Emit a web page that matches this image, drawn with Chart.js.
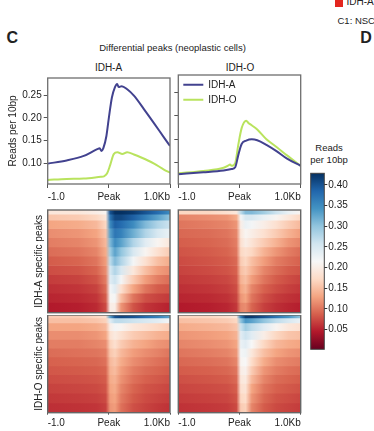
<!DOCTYPE html>
<html>
<head>
<meta charset="utf-8">
<script src="https://cdn.jsdelivr.net/npm/chart.js@4"></script>
<style>
  body { margin: 0; background: #fff; }
  #wrap { position: relative; width: 374px; height: 431px; overflow: hidden; font-family: 'Liberation Sans', Arial, sans-serif; color: #222; }
  .box { position: absolute; }
  .t { position: absolute; white-space: nowrap; line-height: 1; font-size: 9.5px; transform: translate(-50%, -50%); }
  .l { transform: translate(0, -50%); }
</style>
</head>
<body>
<div id="wrap">
  <div class="box" style="left:335px;top:0;width:8px;height:6.5px;background:#e3261f"></div>
  <div class="t l" style="left:346.5px;top:2px;font-size:10px">IDH-A</div>
  <div class="t l" style="left:337.5px;top:20.5px">C1: NSC</div>
  <div class="t" style="left:12.3px;top:37.5px;font-size:16px;font-weight:bold">C</div>
  <div class="t" style="left:366px;top:37.5px;font-size:16px;font-weight:bold">D</div>
  <div class="t" style="left:172.5px;top:48px">Differential peaks (neoplastic cells)</div>
  <div class="t" style="left:108.5px;top:68px;font-size:10px">IDH-A</div>
  <div class="t" style="left:240px;top:68px;font-size:10px">IDH-O</div>
  <div class="t" style="left:329px;top:148px">Reads</div>
  <div class="t" style="left:329px;top:159.5px">per 10bp</div>

  <div class="box" style="left:0;top:70px;width:176px;height:136px"><canvas id="profA"></canvas></div>
  <div class="box" style="left:170px;top:70px;width:136px;height:136px"><canvas id="profO"></canvas></div>
  <div class="box" style="left:30px;top:205px;width:146px;height:110px"><canvas id="hmAA"></canvas></div>
  <div class="box" style="left:176px;top:205px;width:130px;height:110px"><canvas id="hmAO"></canvas></div>
  <div class="box" style="left:30px;top:315px;width:146px;height:116px"><canvas id="hmOA"></canvas></div>
  <div class="box" style="left:176px;top:315px;width:130px;height:116px"><canvas id="hmOO"></canvas></div>
  <div class="box" style="left:305px;top:165px;width:69px;height:195px"><canvas id="cbar"></canvas></div>
</div>
<script>
// axis ticks
const kbTicks = [-1, 0, 1];
const kbLabels = ['-1.0', 'Peak', '1.0Kb'];
const profTicks = [0.10, 0.15, 0.20, 0.25];
const profRange = [0.054, 0.288];

// profiles at IDH-A specific peaks
const aPeaksKbA = [-1.0, -0.69, -0.41, -0.19, -0.15, -0.12, -0.09, -0.04, 0.0, 0.05, 0.10, 0.135, 0.16, 0.21, 0.30, 0.41, 0.57, 0.74, 0.90, 1.0];
const aPeaksA   = [0.099, 0.106, 0.116, 0.131, 0.133, 0.127, 0.133, 0.16, 0.20, 0.245, 0.268, 0.275, 0.268, 0.27, 0.263, 0.249, 0.22, 0.188, 0.157, 0.138];
const aPeaksKbO = [-1.0, -0.69, -0.41, -0.13, -0.08, -0.03, 0.02, 0.08, 0.14, 0.22, 0.30, 0.41, 0.52, 0.74, 0.90, 1.0];
const aPeaksO   = [0.063, 0.065, 0.066, 0.070, 0.071, 0.077, 0.095, 0.12, 0.124, 0.12, 0.124, 0.119, 0.113, 0.099, 0.086, 0.079];

// profiles at IDH-O specific peaks
const oPeaksKbA = [-1.0, -0.59, -0.26, -0.13, -0.07, -0.02, 0.035, 0.11, 0.20, 0.29, 0.44, 0.61, 0.77, 1.0];
const oPeaksA   = [0.075, 0.079, 0.083, 0.086, 0.09, 0.116, 0.14, 0.147, 0.15, 0.148, 0.138, 0.124, 0.109, 0.093];
const oPeaksKbO = [-1.0, -0.59, -0.26, -0.18, -0.155, -0.13, -0.07, -0.02, 0.035, 0.11, 0.145, 0.20, 0.29, 0.44, 0.61, 0.77, 1.0];
const oPeaksO   = [0.077, 0.082, 0.089, 0.094, 0.096, 0.093, 0.099, 0.138, 0.174, 0.19, 0.185, 0.18, 0.171, 0.15, 0.133, 0.116, 0.093];

// heatmaps: columns in kb, row heights (% of peaks, sorted), values per row
const hmCols = [-1.0, -0.5, -0.2, -0.05, 0.02, 0.1, 0.2, 0.4, 0.6, 0.8, 1.0];
const hmRowsA = [4, 6, 8, 9, 9, 9, 9, 9, 9, 9, 9, 10];
const hmRowsO = [3, 5, 8, 9, 9, 9, 9, 9, 9, 10, 10, 10];

const hmAA = [
  [0.19, 0.19, 0.20, 0.21, 0.40, 0.43, 0.43, 0.42, 0.40, 0.38, 0.35],
  [0.155, 0.16, 0.17, 0.19, 0.37, 0.41, 0.41, 0.39, 0.36, 0.33, 0.30],
  [0.13, 0.135, 0.145, 0.17, 0.35, 0.39, 0.38, 0.35, 0.31, 0.28, 0.26],
  [0.115, 0.12, 0.13, 0.155, 0.33, 0.37, 0.36, 0.32, 0.28, 0.25, 0.23],
  [0.105, 0.11, 0.12, 0.145, 0.31, 0.35, 0.33, 0.28, 0.24, 0.21, 0.19],
  [0.095, 0.10, 0.11, 0.135, 0.29, 0.33, 0.30, 0.25, 0.21, 0.18, 0.16],
  [0.085, 0.09, 0.10, 0.125, 0.27, 0.31, 0.28, 0.22, 0.18, 0.15, 0.135],
  [0.076, 0.08, 0.09, 0.115, 0.25, 0.28, 0.25, 0.19, 0.15, 0.125, 0.115],
  [0.066, 0.07, 0.08, 0.105, 0.24, 0.26, 0.22, 0.16, 0.125, 0.105, 0.095],
  [0.058, 0.062, 0.07, 0.095, 0.22, 0.24, 0.18, 0.13, 0.10, 0.085, 0.08],
  [0.052, 0.055, 0.062, 0.085, 0.21, 0.22, 0.15, 0.10, 0.078, 0.07, 0.065],
  [0.045, 0.048, 0.055, 0.075, 0.20, 0.20, 0.12, 0.08, 0.062, 0.055, 0.05]
];
const hmAO = [
  [0.17, 0.17, 0.18, 0.19, 0.27, 0.31, 0.31, 0.29, 0.26, 0.23, 0.21],
  [0.11, 0.115, 0.12, 0.135, 0.22, 0.25, 0.25, 0.23, 0.21, 0.19, 0.17],
  [0.10, 0.105, 0.11, 0.12, 0.20, 0.23, 0.22, 0.20, 0.18, 0.16, 0.145],
  [0.092, 0.095, 0.10, 0.11, 0.19, 0.21, 0.20, 0.18, 0.16, 0.14, 0.125],
  [0.086, 0.09, 0.095, 0.105, 0.18, 0.20, 0.185, 0.16, 0.14, 0.12, 0.11],
  [0.08, 0.085, 0.09, 0.10, 0.17, 0.18, 0.17, 0.14, 0.12, 0.105, 0.095],
  [0.075, 0.08, 0.085, 0.093, 0.16, 0.17, 0.15, 0.125, 0.105, 0.095, 0.088],
  [0.07, 0.075, 0.08, 0.088, 0.15, 0.16, 0.14, 0.11, 0.095, 0.085, 0.08],
  [0.064, 0.068, 0.073, 0.082, 0.14, 0.15, 0.125, 0.10, 0.085, 0.076, 0.07],
  [0.058, 0.062, 0.067, 0.076, 0.13, 0.14, 0.11, 0.088, 0.076, 0.068, 0.063],
  [0.052, 0.055, 0.06, 0.07, 0.12, 0.13, 0.10, 0.078, 0.066, 0.06, 0.056],
  [0.045, 0.048, 0.053, 0.063, 0.11, 0.115, 0.09, 0.068, 0.058, 0.052, 0.048]
];
const hmOA = [
  [0.16, 0.16, 0.17, 0.18, 0.33, 0.40, 0.41, 0.40, 0.38, 0.36, 0.33],
  [0.15, 0.15, 0.155, 0.165, 0.24, 0.27, 0.27, 0.26, 0.25, 0.24, 0.22],
  [0.13, 0.13, 0.135, 0.145, 0.20, 0.22, 0.21, 0.19, 0.18, 0.17, 0.16],
  [0.115, 0.115, 0.12, 0.13, 0.18, 0.195, 0.18, 0.16, 0.15, 0.14, 0.135],
  [0.105, 0.105, 0.11, 0.115, 0.165, 0.18, 0.16, 0.14, 0.13, 0.12, 0.115],
  [0.095, 0.098, 0.10, 0.105, 0.155, 0.165, 0.145, 0.125, 0.115, 0.108, 0.10],
  [0.088, 0.09, 0.092, 0.098, 0.145, 0.155, 0.135, 0.115, 0.105, 0.098, 0.092],
  [0.082, 0.084, 0.086, 0.09, 0.14, 0.148, 0.125, 0.105, 0.095, 0.09, 0.085],
  [0.076, 0.078, 0.08, 0.085, 0.135, 0.14, 0.118, 0.098, 0.088, 0.083, 0.078],
  [0.07, 0.072, 0.074, 0.08, 0.13, 0.135, 0.11, 0.09, 0.08, 0.076, 0.072],
  [0.064, 0.066, 0.068, 0.074, 0.125, 0.13, 0.104, 0.084, 0.075, 0.07, 0.066],
  [0.058, 0.06, 0.062, 0.068, 0.12, 0.125, 0.098, 0.078, 0.07, 0.064, 0.06]
];
const hmOO = [
  [0.17, 0.17, 0.18, 0.19, 0.36, 0.42, 0.42, 0.40, 0.37, 0.34, 0.30],
  [0.15, 0.155, 0.16, 0.17, 0.30, 0.34, 0.33, 0.30, 0.27, 0.25, 0.23],
  [0.135, 0.14, 0.145, 0.155, 0.26, 0.29, 0.27, 0.24, 0.21, 0.19, 0.18],
  [0.12, 0.125, 0.13, 0.14, 0.24, 0.26, 0.24, 0.20, 0.17, 0.155, 0.15],
  [0.11, 0.115, 0.12, 0.13, 0.23, 0.24, 0.215, 0.17, 0.145, 0.135, 0.13],
  [0.10, 0.105, 0.11, 0.12, 0.22, 0.225, 0.19, 0.15, 0.13, 0.12, 0.115],
  [0.092, 0.096, 0.10, 0.11, 0.21, 0.215, 0.175, 0.135, 0.115, 0.108, 0.104],
  [0.085, 0.088, 0.092, 0.10, 0.20, 0.205, 0.16, 0.12, 0.105, 0.098, 0.094],
  [0.078, 0.081, 0.085, 0.093, 0.19, 0.195, 0.145, 0.11, 0.095, 0.09, 0.086],
  [0.072, 0.075, 0.078, 0.086, 0.18, 0.185, 0.13, 0.10, 0.088, 0.083, 0.079],
  [0.066, 0.069, 0.072, 0.08, 0.17, 0.175, 0.12, 0.092, 0.08, 0.076, 0.072],
  [0.06, 0.063, 0.066, 0.074, 0.16, 0.165, 0.11, 0.085, 0.074, 0.07, 0.066]
];

// colour scale
const cMin = 0.002, cMax = 0.428;
const cbTicks = [0.05, 0.10, 0.15, 0.20, 0.25, 0.30, 0.35, 0.40];
const rdbuStops = ['#67001f', '#b2182b', '#d6604d', '#f4a582', '#fddbc7', '#f7f7f7',
                   '#d1e5f0', '#92c5de', '#4393c3', '#2166ac', '#053061'];

const blueLine = '#42428f';
const greenLine = '#b9e35e';

Chart.defaults.font.family = "'Liberation Sans', Arial, sans-serif";
Chart.defaults.font.size = 10;
Chart.defaults.color = '#222';
Chart.defaults.animation = false;
Chart.defaults.devicePixelRatio = 1;
Chart.defaults.maintainAspectRatio = false;
Chart.defaults.plugins.legend.display = false;
Chart.defaults.plugins.tooltip.enabled = false;

const hex = h => [1, 3, 5].map(i => parseInt(h.slice(i, i + 2), 16));
const rdbuRgb = rdbuStops.map(hex);

function rdbu(v) {
  let t = (v - cMin) / (cMax - cMin);
  t = Math.max(0, Math.min(1, t)) * (rdbuRgb.length - 1);
  const i = Math.min(Math.floor(t), rdbuRgb.length - 2), f = t - i;
  const a = rdbuRgb[i], b = rdbuRgb[i + 1];
  return 'rgb(' + a.map((c, k) => Math.round(c + (b[k] - c) * f)).join(',') + ')';
}

const frame = {
  id: 'frame',
  afterDatasetsDraw(chart, args, opts) {
    const a = chart.chartArea, c = chart.ctx;
    c.save();
    c.strokeStyle = opts.color || '#6e6e6e';
    c.lineWidth = opts.width || 1.3;
    c.strokeRect(a.left, a.top, a.right - a.left, a.bottom - a.top);
    c.restore();
  }
};

const pts = (xs, ys) => xs.map((x, i) => ({ x: x, y: ys[i] }));

function kbAxis(show, tickLen, pad, h) {
  return {
    type: 'linear', axis: 'x', position: 'bottom', min: -1, max: 1, display: show, offset: false,
    afterBuildTicks: s => { s.ticks = kbTicks.map(v => ({ value: v })); },
    afterFit: s => { if (show) s.height = h; },
    ticks: { align: 'inner', maxRotation: 0, autoSkip: false, padding: pad, callback: v => kbLabels[kbTicks.indexOf(v)] },
    grid: { offset: false, drawOnChartArea: false, tickLength: tickLen, tickColor: '#555' },
    border: { display: false }
  };
}

function profile(id, series, withLabels, padding) {
  new Chart(document.getElementById(id), {
    type: 'line',
    data: {
      datasets: series.map(s => ({
        label: s.label, data: pts(s.x, s.y), borderColor: s.color, backgroundColor: s.color,
        borderWidth: 2, pointRadius: 0, fill: false, cubicInterpolationMode: 'monotone'
      }))
    },
    options: {
      layout: { padding: padding },
      scales: {
        x: kbAxis(true, 4, 3, 22),
        y: {
          min: profRange[0], max: profRange[1],
          afterBuildTicks: s => { s.ticks = profTicks.map(v => ({ value: v })); },
          afterFit: s => { s.width = withLabels ? 47.7 : 8.3; },
          ticks: { display: withLabels, padding: 2, callback: v => v.toFixed(2) },
          grid: { drawOnChartArea: false, tickLength: 4, tickColor: '#555' },
          border: { display: false },
          title: { display: withLabels, text: 'Reads per 10bp', padding: { top: 6.8, bottom: 0 } }
        }
      },
      plugins: {
        frame: {},
        legend: {
          display: !withLabels, position: 'chartArea', align: 'start',
          title: { display: true, text: ' ', padding: 0, font: { size: 4 } },
          labels: { usePointStyle: true, pointStyle: 'line', pointStyleWidth: 20, padding: 5, font: { size: 10 } }
        }
      }
    },
    plugins: [frame]
  });
}

profile('profA', [
  { label: 'IDH-A', x: aPeaksKbA, y: aPeaksA, color: blueLine },
  { label: 'IDH-O', x: aPeaksKbO, y: aPeaksO, color: greenLine }
], true, { top: 5, right: 6, left: 0, bottom: 0 });

profile('profO', [
  { label: 'IDH-A', x: oPeaksKbA, y: oPeaksA, color: blueLine },
  { label: 'IDH-O', x: oPeaksKbO, y: oPeaksO, color: greenLine }
], false, { top: 5, right: 5.3, left: 0, bottom: 0 });

function rowGradient(chart, vals) {
  if (!chart.chartArea) return rdbu(vals[0]);
  const kb = chart.scales.kb;
  const x0 = kb.getPixelForValue(-1), x1 = kb.getPixelForValue(1);
  const g = chart.ctx.createLinearGradient(x0, 0, x1, 0);
  hmCols.forEach((p, i) => g.addColorStop((kb.getPixelForValue(p) - x0) / (x1 - x0), rdbu(vals[i])));
  return g;
}

function heatmap(id, rows, mat, title, showX, padding) {
  new Chart(document.getElementById(id), {
    type: 'bar',
    data: {
      labels: ['peaks'],
      datasets: rows.map((h, r) => ({
        data: [h], borderWidth: 0, barPercentage: 1, categoryPercentage: 1,
        backgroundColor: c => rowGradient(c.chart, mat[r])
      }))
    },
    options: {
      layout: { padding: padding },
      scales: {
        x: { type: 'category', display: false, stacked: true },
        kb: kbAxis(showX, 2, 2.3, 18.3),
        y: {
          type: 'linear', stacked: true, min: 0, max: 100, reverse: true, display: !!title,
          afterFit: s => { if (title) s.width = 17.7; },
          ticks: { display: false }, grid: { display: false }, border: { display: false },
          title: { display: !!title, text: title, padding: { top: 3.3, bottom: 0 } }
        }
      },
      plugins: { frame: { color: '#666', width: 1.4 } }
    },
    plugins: [frame]
  });
}

heatmap('hmAA', hmRowsA, hmAA, 'IDH-A specific peaks', false, { top: 5, bottom: 2.3, right: 6 });
heatmap('hmAO', hmRowsA, hmAO, '', false, { top: 5, bottom: 2.3, left: 2.3, right: 5.3 });
heatmap('hmOA', hmRowsO, hmOA, 'IDH-O specific peaks', true, { top: 0, right: 6 });
heatmap('hmOO', hmRowsO, hmOO, '', true, { top: 0, left: 2.3, right: 5.3 });

// colour bar
new Chart(document.getElementById('cbar'), {
  type: 'bar',
  data: {
    labels: ['scale'],
    datasets: [{
      data: [[cMin, cMax]], borderWidth: 0, barPercentage: 1, categoryPercentage: 1,
      backgroundColor: c => {
        const ch = c.chart;
        if (!ch.chartArea) return '#f7f7f7';
        const y = ch.scales.y;
        const g = ch.ctx.createLinearGradient(0, y.getPixelForValue(cMin), 0, y.getPixelForValue(cMax));
        rdbuStops.forEach((col, i) => g.addColorStop(i / (rdbuStops.length - 1), col));
        return g;
      }
    }]
  },
  options: {
    layout: { padding: { left: 5.7, top: 8.3, bottom: 10.7, right: 0 } },
    scales: {
      x: { display: false },
      y: {
        position: 'right', min: cMin, max: cMax,
        afterBuildTicks: s => { s.ticks = cbTicks.map(v => ({ value: v })); },
        afterFit: s => { s.width = 49.7; },
        ticks: { padding: 1, callback: v => v.toFixed(2) },
        grid: { drawOnChartArea: false, tickLength: 3, tickColor: '#333' },
        border: { display: false }
      }
    },
    plugins: { frame: { color: '#444', width: 1 } }
  },
  plugins: [frame]
});
</script>
</body>
</html>
